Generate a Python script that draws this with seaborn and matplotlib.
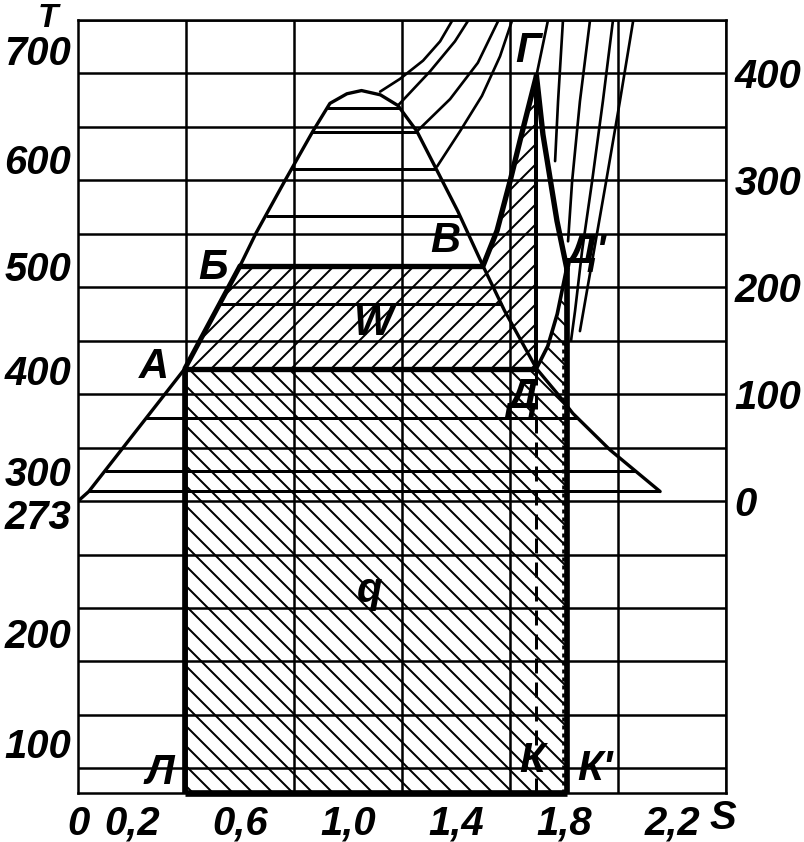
import numpy as np
import matplotlib
matplotlib.use("Agg")
import matplotlib.pyplot as plt
from matplotlib.patches import Polygon
import seaborn as sns
import pandas as pd

# ---------------- data (S in kcal/(kg*K), t in deg C) ----------------
dome_left_s = [0.00, 0.04, 0.396, 0.60, 0.66, 0.767, 0.87, 0.933, 0.996, 1.05]
dome_left_t = [0, 9, 124, 220, 251, 300, 346, 372, 381, 384]
dome_right_s = [1.05, 1.12, 1.185, 1.255, 1.322, 1.407, 1.50, 1.58, 1.698, 1.774, 1.833, 1.97, 2.156]
dome_right_t = [384, 380, 370, 346, 313, 271, 220, 178, 124, 101, 82, 48, 9]

wet_isotherms_t = [368, 345, 311, 267, 184, 78, 28, 9]
t_boil = 220          # Б–В
t_cond = 124          # А–Д
t_zero_K = -273

S_L = 0.396           # Л
S_K = 1.698           # К
S_K2 = 1.81           # К'

BG_s = [1.50, 1.552, 1.60, 1.637, 1.674, 1.698]
BG_t = [220, 253, 299, 337, 374, 398]
GD2_s = [1.698, 1.722, 1.774, 1.81]
GD2_t = [398, 343, 262, 218]
DD2_s = [1.698, 1.74, 1.775, 1.81]
DD2_t = [124, 145, 175, 218]

superheat_isobars = [
    ([1.119, 1.193, 1.278, 1.341, 1.385], [383, 395, 412, 430, 449]),
    ([1.185, 1.304, 1.396, 1.444], [370, 402, 430, 449]),
    ([1.256, 1.378, 1.481, 1.556], [346, 376, 410, 449]),
    ([1.33, 1.415, 1.496, 1.563, 1.607], [313, 346, 379, 416, 449]),
    ([1.698, 1.74], [398, 449]),
    ([1.796, 1.778, 1.767], [449, 374, 318]),
    ([1.896, 1.859, 1.83, 1.815], [449, 374, 299, 243]),
    ([1.981, 1.944, 1.904, 1.867, 1.841, 1.826], [449, 374, 299, 234, 178, 150]),
    ([2.056, 2.007, 1.956, 1.904, 1.859], [449, 374, 299, 224, 159]),
]

x_tick_pos = [0, 0.2, 0.6, 1.0, 1.4, 1.8, 2.2]
x_tick_lab = ["0", "0,2", "0,6", "1,0", "1,4", "1,8", "2,2"]
left_tick_pos = [422, 320, 220, 123, 28, -12, -123, -226]
left_tick_lab = ["700", "600", "500", "400", "300", "273", "200", "100"]
right_tick_pos = [0, 100, 200, 300, 400]
right_tick_lab = ["0", "100", "200", "300", "400"]

point_labels = [
    ("А", 0.281, 125), ("Б", 0.50, 218), ("В", 1.36, 243), ("Г", 1.667, 421),
    ("Д", 1.648, 97), ("Д'", 1.885, 233), ("W", 1.093, 166), ("q", 1.08, -84),
    ("Л", 0.304, -254), ("К", 1.68, -243), ("К'", 1.915, -251),
]

# ---------------- style ----------------
sns.set_theme(style="white")
plt.rcParams["font.family"] = ["Liberation Sans Narrow", "Liberation Sans", "DejaVu Sans"]
plt.rcParams["font.style"] = "italic"
plt.rcParams["font.weight"] = "bold"
plt.rcParams["hatch.linewidth"] = 1.2
plt.rcParams["text.color"] = "black"
plt.rcParams["xtick.color"] = "black"
plt.rcParams["ytick.color"] = "black"
plt.rcParams["xtick.labelcolor"] = "black"
plt.rcParams["ytick.labelcolor"] = "black"
plt.rcParams["axes.labelcolor"] = "black"

fig = plt.figure(figsize=(804 / 120, 842 / 120), dpi=120)
ax = fig.add_axes([78 / 804, 1 - 793 / 842, 648 / 804, 773 / 842])
ax.set_xlim(0, 2.4)
ax.set_ylim(t_zero_K, 450)

ax.set_xticks(np.arange(0, 2.401, 0.2), minor=True)
ax.set_yticks(np.arange(-250, 451, 50), minor=True)
ax.grid(which="minor", color="black", lw=1.5)
ax.grid(which="major", visible=False)
ax.set_axisbelow(True)
ax.set_xticks(x_tick_pos, x_tick_lab)
ax.set_yticks(left_tick_pos, left_tick_lab)
ax.tick_params(which="both", length=0)
ax.tick_params(axis="x", pad=7, labelsize=24, labelcolor="black")
ax.tick_params(axis="y", pad=4, labelsize=24, labelcolor="black")
for sp in ax.spines.values():
    sp.set_color("black")
    sp.set_linewidth(1.5)

ax2 = ax.twinx()
ax2.set_ylim(ax.get_ylim())
ax2.set_yticks(right_tick_pos, right_tick_lab)
ax2.tick_params(length=0, pad=5, labelsize=24, labelcolor="black")
ax2.grid(False)
for sp in ax2.spines.values():
    sp.set_visible(False)

# ---------------- hatched areas ----------------
W_poly = [(S_L, t_cond), (0.60, t_boil)] + list(zip(BG_s, BG_t)) + [(S_K, t_cond)]
q_poly = [(S_L, t_zero_K), (S_L, t_cond)] + list(zip(DD2_s, DD2_t)) + [(S_K2, t_zero_K)]
ax.add_patch(Polygon(W_poly, closed=True, fill=False, hatch="//", edgecolor="black", lw=0, zorder=1))
ax.add_patch(Polygon(q_poly, closed=True, fill=False, hatch="\\\\", edgecolor="black", lw=0, zorder=1))

# ---------------- lines ----------------
def curve(s, t, lw, ls="-", z=3):
    df = pd.DataFrame({"S": s, "t": t})
    sns.lineplot(data=df, x="S", y="t", sort=False, estimator=None, color="black",
                 lw=lw, ls=ls, ax=ax, zorder=z)

# saturation dome
curve(dome_left_s + dome_right_s[1:], dome_left_t + dome_right_t[1:], 2.0)

# wet-steam isotherms
rs = dome_right_s[::-1]
rt = dome_right_t[::-1]
for t in wet_isotherms_t:
    s1 = np.interp(t, dome_left_t, dome_left_s)
    s2 = np.interp(t, rt, rs)
    ax.hlines(t, s1, s2, color="black", lw=1.8, zorder=2)

# superheat isobars
for s, t in superheat_isobars:
    curve(s, t, 1.6, z=2)

# cycle lines (heavy)
ax.hlines(t_boil, np.interp(t_boil, dome_left_t, dome_left_s), BG_s[0], color="black", lw=3.2, zorder=4)
ax.hlines(t_cond, S_L, S_K, color="black", lw=3.2, zorder=4)
curve([S_L, 0.60], [t_cond, t_boil], 3.0, z=4)
curve(BG_s, BG_t, 3.2, z=4)
curve(GD2_s, GD2_t, 3.2, z=4)
curve(DD2_s, DD2_t, 2.2, z=4)
ax.vlines(S_K, t_cond, BG_t[-1], color="black", lw=2.4, zorder=4)
ax.vlines(S_L, t_zero_K, t_cond, color="black", lw=3.4, zorder=4)
ax.vlines(S_K2, t_zero_K, DD2_t[-1], color="black", lw=3.4, zorder=4)
ax.vlines(S_K, t_zero_K, t_cond, color="black", lw=1.8, linestyles=(0, (5, 3)), zorder=4)
ax.vlines(1.795, t_zero_K, 150, color="black", lw=1.6, linestyles=(0, (1.5, 1.5)), zorder=4)
ax.hlines(t_zero_K, S_L, S_K2, color="black", lw=4, zorder=5, clip_on=False)

# seaborn sets axis labels from column names; the chart has none
ax.set_xlabel("")
ax.set_ylabel("")

# ---------------- texts ----------------
for lab, s, t in point_labels:
    ax.text(s, t, lab, fontsize=25, ha="center", va="center", zorder=6, color="black")
ax.text(-0.111, 451, "T", fontsize=20, ha="center", va="center", clip_on=False, color="black")
ax.text(2.389, -296, "S", fontsize=24, ha="center", va="center", clip_on=False, color="black")

fig.savefig("out.png", dpi=120)
